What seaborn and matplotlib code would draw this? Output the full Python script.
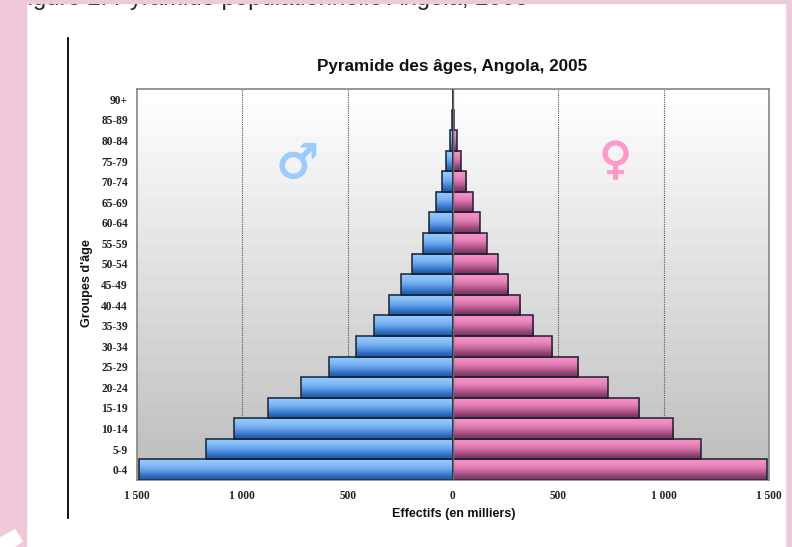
import numpy as np
import pandas as pd
import seaborn as sns
import matplotlib.pyplot as plt
import matplotlib.patheffects as pe
from matplotlib.colors import to_rgb
from matplotlib.patches import Rectangle, Polygon

ages = ['90+', '85-89', '80-84', '75-79', '70-74', '65-69', '60-64', '55-59', '50-54', '45-49',
        '40-44', '35-39', '30-34', '25-29', '20-24', '15-19', '10-14', '5-9', '0-4']
hommes = [1, 3, 14, 32, 52, 81, 112, 142, 193, 247, 304, 373, 460, 587, 721, 880, 1041, 1172, 1490]
femmes = [1, 4, 18, 36, 62, 93, 128, 160, 212, 262, 319, 381, 470, 595, 734, 884, 1046, 1176, 1489]
x_ticks = [-1500, -1000, -500, 0, 500, 1000, 1500]
x_labels = ['1 500', '1 000', '500', '0', '500', '1 000', '1 500']

W, H = 792, 547
PINK = '#EFC9D9'


def grad(colors):
    return np.array([[to_rgb(c)] for c in colors])


def px(x, y):
    return (x / W, 1 - y / H)


df = pd.DataFrame({
    'age': ages * 2,
    'effectif': [-v for v in hommes] + femmes,
    'sexe': ['H'] * len(ages) + ['F'] * len(ages),
})

fig = plt.figure(figsize=(W / 100, H / 100), dpi=100, facecolor=PINK)
fig.add_artist(Rectangle((26 / W, 0), 759 / W, 1, color='white', zorder=-5))
ax = fig.add_axes([137 / W, 1 - 480 / H, 632 / W, 391 / H])

sns.barplot(data=df, x='effectif', y='age', hue='sexe', order=ages,
            palette={'H': '#5A9BE8', 'F': '#C8689C'}, dodge=False, width=1.0,
            orient='h', legend=False, ax=ax, zorder=3)

# fond en bandes
bands = np.linspace(0.985, 0.74, 24)
bg = np.concatenate([np.ones(2), np.repeat(bands, 2)])[:, None]
ax.imshow(bg, cmap='gray', vmin=0, vmax=1, extent=(-1500, 1500, len(ages) - 0.5, -0.5),
          aspect='auto', zorder=0, interpolation='nearest')

male = grad(['#93C8FF', '#84BCF9', '#6AA6EC', '#4482D6', '#1F5CB0'])
female = grad(['#F68FC6', '#EE88BE', '#D273A8', '#AC5488', '#7E3562'])
for p in ax.patches:
    w = p.get_width()
    if w == 0:
        continue
    x0, y0, h = p.get_x(), p.get_y(), p.get_height()
    ax.imshow(male if w < 0 else female, extent=(x0, x0 + w, y0 + h, y0), aspect='auto',
              zorder=2, interpolation='bicubic')
    p.set_facecolor('none')
    p.set_edgecolor('#18222e')
    p.set_linewidth(1.1)
ax.set_xlim(-1500, 1500)
ax.set_ylim(len(ages) - 0.5, -0.5)

for v in [-1000, -500, 500, 1000]:
    ax.axvline(v, color='#555555', lw=0.8, ls=(0, (1, 1)), zorder=1)
ax.axvline(0, color='#6a6a74', lw=1.0, zorder=4)

for s in ax.spines.values():
    s.set_color('#858585')
    s.set_linewidth(1.2)

ax.set_xticks(x_ticks)
ax.set_xticklabels(x_labels, family='Liberation Serif', fontweight='bold', fontsize=8.3, color='#222222')
ax.tick_params(axis='x', length=0, pad=7.5)
ax.tick_params(axis='y', length=0, pad=6.5)
for t in ax.get_yticklabels():
    t.set_family('Liberation Serif')
    t.set_fontweight('bold')
    t.set_fontsize(8.3)
    t.set_color('#222222')
ax.set_xlabel('')
ax.set_ylabel('')

ax.text(-738, 3.2, '\u2642', family='DejaVu Sans', fontweight='bold', style='oblique', fontsize=34,
        color='#99CCFF', ha='center', va='center', zorder=1.5,
        path_effects=[pe.withStroke(linewidth=1, foreground='#99CCFF')])
ax.text(772, 3.0, '\u2640', family='DejaVu Sans', fontweight='bold', style='oblique', fontsize=32,
        color='#FF99CC', ha='center', va='center', zorder=1.5,
        path_effects=[pe.withStroke(linewidth=1, foreground='#FF99CC')])

fig.text(*px(452, 66), "Pyramide des \u00e2ges, Angola, 2005", family='Liberation Sans',
         fontweight='bold', fontsize=12.3, ha='center', va='center', color='#111111')
fig.text(*px(454, 514), 'Effectifs (en milliers)', family='Liberation Sans',
         fontweight='bold', fontsize=9, ha='center', va='center', color='#111111')
fig.text(*px(87, 283), "Groupes d'\u00e2ge", family='Liberation Sans', fontweight='bold',
         fontsize=9.1, rotation=90, ha='center', va='center', color='#111111')

# trait vertical noir a gauche
fig.add_artist(plt.Line2D([67.5 / W, 67.5 / W], [1 - 38 / H, 1 - 518 / H], color='black', lw=1.3))

# legende de figure coupee par le haut de la page
fig.text(*px(13, 5), 'Figure 2: Pyramide populationnelle Angola, 2005', family='Liberation Sans',
         fontsize=17.2, ha='left', va='baseline', color='#222222', zorder=2)
fig.add_artist(Rectangle((0, 1 - 3 / H), 1, 3 / H, color=PINK, zorder=3))
fig.add_artist(Rectangle((0, 0), 26 / W, 1, color=PINK, zorder=3))
fig.add_artist(Polygon([px(0, 538), px(15, 530), px(22, 541), px(14, 547), px(0, 547)],
                       closed=True, color='white', zorder=4))

fig.savefig('out.png', dpi=100, facecolor=fig.get_facecolor())
